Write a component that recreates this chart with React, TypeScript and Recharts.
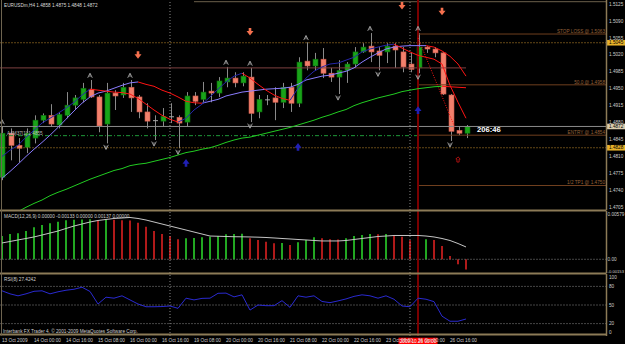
import React from "react";
import {
  ComposedChart,
  Bar,
  Line,
  Scatter,
  XAxis,
  YAxis,
  ReferenceLine,
  Cell,
} from "recharts";

// EURUSDm H4, 13 Oct 2009 08:00 .. 26 Oct 2009 16:00, one entry per candle
const opens = [
  1.4767, 1.4858, 1.4833, 1.4829, 1.4848, 1.4885, 1.4895, 1.4875, 1.4895, 1.4916,
  1.4928, 1.4949, 1.4933, 1.4877, 1.4941, 1.4937, 1.4953, 1.4933, 1.4902, 1.4885,
  1.4883, 1.4891, 1.4891, 1.4881, 1.4935, 1.4928, 1.4945, 1.4941, 1.4964, 1.4972,
  1.4962, 1.4974, 1.4902, 1.4928, 1.4931, 1.4922, 1.4953, 1.492, 1.5007, 1.4997,
  1.5011, 1.4982, 1.4974, 1.4988, 1.5001, 1.5026, 1.5038, 1.5028, 1.5026, 1.5038,
  1.5026, 1.5001, 1.4993, 1.5036, 1.5032, 1.5024, 1.4937, 1.4864, 1.4858,
];
const highs = [
  1.4872, 1.4868, 1.4848, 1.4868, 1.4895, 1.4899, 1.4918, 1.4902, 1.4943, 1.4937,
  1.4962, 1.4968, 1.4937, 1.4962, 1.4947, 1.4962, 1.4968, 1.4937, 1.492, 1.4895,
  1.491, 1.492, 1.4895, 1.4943, 1.4943, 1.4964, 1.4962, 1.4974, 1.4995, 1.4984,
  1.4984, 1.4993, 1.4937, 1.4937, 1.4953, 1.4962, 1.4962, 1.5015, 1.5046, 1.5024,
  1.5034, 1.4993, 1.5009, 1.5005, 1.5036, 1.5044, 1.5065, 1.5036, 1.5044, 1.5044,
  1.5036, 1.5026, 1.5065, 1.5038, 1.5036, 1.5026, 1.4939, 1.4873, 1.4875,
];
const lows = [
  1.4761, 1.4802, 1.4798, 1.4817, 1.4837, 1.4879, 1.4871, 1.4868, 1.4889, 1.4906,
  1.4922, 1.4931, 1.486, 1.4837, 1.4906, 1.4931, 1.4902, 1.4889, 1.4868, 1.4844,
  1.4871, 1.4879, 1.4827, 1.4871, 1.4916, 1.492, 1.4922, 1.4933, 1.4953, 1.4953,
  1.4955, 1.4881, 1.4889, 1.4916, 1.4885, 1.491, 1.4902, 1.4912, 1.4988, 1.4988,
  1.4972, 1.4964, 1.4939, 1.4962, 1.4993, 1.5024, 1.5005, 1.4988, 1.5003, 1.4993,
  1.4984, 1.4984, 1.4982, 1.5024, 1.5015, 1.4937, 1.4842, 1.4854, 1.4848,
];
const closes = [
  1.4858, 1.4833, 1.4827, 1.4858, 1.4885, 1.4895, 1.4877, 1.4897, 1.4916, 1.4931,
  1.4951, 1.4933, 1.4873, 1.4941, 1.4935, 1.4953, 1.4931, 1.4902, 1.4883, 1.4884,
  1.4893, 1.4892, 1.4879, 1.4935, 1.4924, 1.4943, 1.4941, 1.4966, 1.4972, 1.4962,
  1.4976, 1.4899, 1.4928, 1.4927, 1.4922, 1.4953, 1.492, 1.5005, 1.4997, 1.5011,
  1.4982, 1.4974, 1.4988, 1.5001, 1.5026, 1.5036, 1.5026, 1.5019, 1.5038, 1.503,
  1.4995, 1.499, 1.5036, 1.5032, 1.5024, 1.4939, 1.4862, 1.4858, 1.4872,
];

// moving averages over the candles
const fastMa = [
  1.481, 1.4823, 1.4833, 1.485, 1.4864, 1.4879, 1.4889, 1.4899, 1.491, 1.4922,
  1.4937, 1.4949, 1.4947, 1.4945, 1.4943, 1.4942, 1.4939, 1.493, 1.4918, 1.4906,
  1.4895, 1.4887, 1.4881, 1.4889, 1.4906, 1.4918, 1.4933, 1.4949, 1.4964, 1.4976,
  1.4982, 1.4972, 1.4959, 1.4947, 1.4937, 1.493, 1.4926, 1.4951, 1.4972, 1.4986,
  1.4995, 1.5001, 1.5003, 1.5009, 1.5015, 1.5026, 1.5032, 1.5036, 1.504, 1.5042,
  1.5034, 1.5026, 1.5019, 1.5015, 1.5011, 1.5001, 1.4957, 1.4922, 1.4889,
];
const slowMa = [
  1.4765, 1.4779, 1.4794, 1.481, 1.4825, 1.4839, 1.4854, 1.487, 1.4887, 1.4904,
  1.492, 1.4933, 1.4941, 1.4945, 1.4951, 1.4957, 1.4962, 1.4964, 1.4959, 1.4955,
  1.4947, 1.4941, 1.4933, 1.4924, 1.4921, 1.492, 1.4924, 1.4928, 1.4935, 1.4939,
  1.4943, 1.4945, 1.4947, 1.4949, 1.495, 1.4951, 1.4953, 1.4959, 1.4968, 1.4972,
  1.4976, 1.4978, 1.4982, 1.4986, 1.4993, 1.5005, 1.5015, 1.5024, 1.5032, 1.5036,
  1.5038, 1.5039, 1.5039, 1.5039, 1.5036, 1.5028, 1.5017, 1.5001, 1.4976,
];
const longMa = [
  1.468, 1.4688, 1.4696, 1.4705, 1.4713, 1.472, 1.4729, 1.4736, 1.4742, 1.4749,
  1.4756, 1.4763, 1.4769, 1.4775, 1.4781, 1.4785, 1.4791, 1.4794, 1.4796, 1.48,
  1.4804, 1.4808, 1.4813, 1.4818, 1.4821, 1.4825, 1.4828, 1.4833, 1.4839, 1.4844,
  1.4848, 1.485, 1.4854, 1.4858, 1.4862, 1.4866, 1.487, 1.4875, 1.488, 1.4885,
  1.4891, 1.4896, 1.4902, 1.4907, 1.4915, 1.4921, 1.4926, 1.4931, 1.4935, 1.4939,
  1.4944, 1.4947, 1.495, 1.4952, 1.4954, 1.4955, 1.4954, 1.4953, 1.4952,
];

// MACD(12,26,9)
const macdHist = [
  0.00302, 0.00328, 0.00338, 0.00367, 0.00415, 0.00445, 0.00467, 0.00488, 0.00508, 0.00512,
  0.00518, 0.0052, 0.0051, 0.00519, 0.00512, 0.00508, 0.00504, 0.00475, 0.00423, 0.00367,
  0.00328, 0.00302, 0.0026, 0.00273, 0.00276, 0.00286, 0.00293, 0.00302, 0.00326, 0.00328,
  0.0033, 0.00273, 0.00251, 0.00229, 0.00208, 0.0021, 0.00186, 0.00221, 0.00251, 0.00286,
  0.00273, 0.0026, 0.00258, 0.00273, 0.00302, 0.00315, 0.00328, 0.00324, 0.00328, 0.00315,
  0.00293, 0.00248, 0.00251, 0.0026, 0.00251, 0.00173, 0.00043, -0.00065, -0.00133,
];
const macdSignal = [
  0.00212, 0.00231, 0.00251, 0.0027, 0.0029, 0.00315, 0.00341, 0.00367, 0.004, 0.00432,
  0.00458, 0.00484, 0.00504, 0.00517, 0.0053, 0.00536, 0.00543, 0.0053, 0.0051, 0.00484,
  0.00458, 0.00432, 0.00406, 0.0038, 0.00354, 0.00328, 0.00302, 0.00299, 0.00296, 0.00293,
  0.00292, 0.0029, 0.00287, 0.00283, 0.00277, 0.0027, 0.00264, 0.00257, 0.00251, 0.00244,
  0.00238, 0.00238, 0.00238, 0.00244, 0.00257, 0.0027, 0.00283, 0.00296, 0.00302, 0.00309,
  0.00309, 0.00309, 0.00309, 0.00302, 0.0029, 0.0027, 0.00244, 0.00205, 0.0016,
];

// RSI(8)
const rsi8 = [
  72.9, 68.0, 64.8, 68.0, 72.1, 72.9, 68.0, 71.3, 73.8, 75.4,
  78.7, 71.8, 51.6, 62.6, 61.0, 64.8, 58.2, 51.6, 47.2, 47.2,
  47.5, 48.4, 44.6, 61.0, 58.2, 60.7, 61.0, 68.9, 69.2, 63.1,
  66.4, 41.8, 50.0, 48.9, 48.9, 57.0, 46.2, 64.8, 62.6, 64.8,
  55.7, 53.8, 56.6, 59.8, 63.9, 66.4, 64.8, 61.0, 64.8, 59.3,
  48.4, 47.2, 61.0, 59.3, 55.4, 32.0, 23.8, 23.8, 27.4242,
];

const priceTicks = [
  1.5125, 1.509, 1.5055, 1.502, 1.4985, 1.495, 1.4915, 1.488, 1.4845, 1.481, 1.4775, 1.474, 1.4705,
];
const macdTicks = [0.00579, 0, -0.00153];
const rsiTicks = [100, 80, 50, 20, 0];
const dateLabels = [
  "13 Oct 2009", "14 Oct 00:00", "14 Oct 16:00", "15 Oct 08:00", "16 Oct 00:00",
  "16 Oct 16:00", "19 Oct 08:00", "20 Oct 00:00", "20 Oct 16:00", "21 Oct 08:00",
  "22 Oct 00:00", "22 Oct 16:00", "23 Oct 08:00", "26 Oct 00:00", "26 Oct 16:00",
];

// arrows on the price panel
const upFractals = [0, 11, 16, 28, 31, 38, 46, 52];
const downFractals = [13, 19, 22, 31, 42, 47, 52, 56];
const sellIdx = [17, 31, 50, 55];
const sellPrice = [1.5019, 1.5067, 1.5121, 1.5109];
const buyIdx = [23, 37, 52];
const buyPrice = [1.4797, 1.483, 1.4906];
const alertIdx = [57];
const alertPrice = [1.4803];

const tradeLevels = [
  { label: "STOP LOSS @ 1.5063", price: 1.5063 },
  { label: "50.0 @ 1.4958", price: 1.4958 },
  { label: "ENTRY @ 1.4854", price: 1.4854 },
  { label: "1/2 TP1 @ 1.4750", price: 1.475 },
];

const W = 625;
const AXIS_W = 18.5;
const X_DOMAIN: [number, number] = [-0.25, 75.56];
const FONT = "'Liberation Sans', Arial, sans-serif";
const FS = 4.7;
const FRAME = "#8c7b57";
const TEXT = "#cdcdcd";
const RED = "#ff1414";
const NOW = 52;
const margin = { top: 0, right: 0, bottom: 0, left: 0 };

// split a line into rising / falling pieces so each can get its own colour
function splitByDirection(values: number[]) {
  const up: (number | null)[] = values.map(() => null);
  const down: (number | null)[] = values.map(() => null);
  for (let k = 0; k < values.length - 1; k++) {
    const side = values[k + 1] >= values[k] ? up : down;
    side[k] = values[k];
    side[k + 1] = values[k + 1];
  }
  return { up, down };
}

const fast = splitByDirection(fastMa);
const slow = splitByDirection(slowMa);
const long = splitByDirection(longMa);

const rows = opens.map((open, i) => ({
  i,
  open,
  high: highs[i],
  low: lows[i],
  close: closes[i],
  range: [lows[i], highs[i]],
  fastUp: fast.up[i],
  fastDown: fast.down[i],
  slowUp: slow.up[i],
  slowDown: slow.down[i],
  longUp: long.up[i],
  longDown: long.down[i],
  macd: macdHist[i],
  signal: macdSignal[i],
  rsi: rsi8[i],
}));

const marks = (idx: number[], price: number[]) => idx.map((i, k) => ({ i, price: price[k] }));

function Candle(props: any) {
  const { x, y, width, height, payload } = props;
  if (x == null || !payload) return null;
  const top = Math.min(y, y + height);
  const span = Math.abs(height);
  const k = span / (payload.high - payload.low);
  const cx = Math.round(x + width / 2) + 0.5;
  const yo = top + (payload.high - payload.open) * k;
  const yc = top + (payload.high - payload.close) * k;
  const doji = Math.abs(payload.close - payload.open) < 0.00015;
  const bull = payload.close > payload.open;
  return (
    <g>
      <line x1={cx} x2={cx} y1={top} y2={top + span} stroke="#8a8a8a" strokeWidth={1} />
      {doji ? (
        <line x1={cx - 2.5} x2={cx + 2.5} y1={yc} y2={yc} stroke="#a8a8a8" strokeWidth={1} />
      ) : (
        <rect
          x={cx - 2.5}
          y={Math.min(yo, yc)}
          width={5}
          height={Math.max(Math.abs(yo - yc), 1)}
          fill={bull ? "#19a319" : "#f2806c"}
          stroke={bull ? "#0d6d0d" : "#c9584a"}
          strokeWidth={0.6}
        />
      )}
    </g>
  );
}

function FractalUp({ cx, cy }: any) {
  const y = cy - 4.5;
  return (
    <path
      d={`M${cx - 2.3},${y + 2.3} L${cx},${y - 2.3} L${cx + 2.3},${y + 2.3} M${cx},${y - 1.5} L${cx},${y + 1.5}`}
      stroke="#a6a6a6"
      strokeWidth={0.9}
      fill="none"
    />
  );
}

function FractalDown({ cx, cy }: any) {
  const y = cy + 3.8;
  return (
    <path
      d={`M${cx - 2.3},${y - 2.3} L${cx},${y + 2.3} L${cx + 2.3},${y - 2.3} M${cx},${y + 1.5} L${cx},${y - 1.5}`}
      stroke="#a6a6a6"
      strokeWidth={0.9}
      fill="none"
    />
  );
}

function SellArrow({ cx, cy }: any) {
  return (
    <path
      d={`M${cx - 1.3},${cy - 4} h2.6 v3 h2.2 L${cx},${cy + 3.5} L${cx - 3.5},${cy - 1} h2.2 z`}
      fill="#f4704e"
    />
  );
}

function BuyArrow({ cx, cy }: any) {
  return (
    <path
      d={`M${cx - 1.3},${cy + 4} h2.6 v-3 h2.2 L${cx},${cy - 3.8} L${cx - 3.5},${cy + 1} h2.2 z`}
      fill="#2020b4"
    />
  );
}

function AlertMark({ cx, cy }: any) {
  return (
    <path
      d={`M${cx},${cy - 3} L${cx + 2.2},${cy - 0.8} h-1.1 v3 h-2.2 v-3 h-1.1 z`}
      stroke="#cc1414"
      strokeWidth={0.8}
      fill="none"
    />
  );
}

function PriceTag({ viewBox, text, bg }: any) {
  if (!viewBox) return null;
  const x = viewBox.x + viewBox.width;
  const y = viewBox.y;
  return (
    <g>
      <rect x={x} y={y - 2.8} width={AXIS_W} height={5.6} fill={bg} />
      <text x={x + 2.5} y={y} dy="0.35em" fontSize={FS} fontFamily={FONT} fill="#000">
        {text}
      </text>
    </g>
  );
}

function LevelLabel({ viewBox, text }: any) {
  if (!viewBox) return null;
  return (
    <text
      x={viewBox.x + viewBox.width - 1.5}
      y={viewBox.y - 1.2}
      textAnchor="end"
      fontSize={FS}
      fontFamily={FONT}
      fill="#96623a"
    >
      {text}
    </text>
  );
}

function DateBox({ viewBox, text }: any) {
  if (!viewBox) return null;
  const x = viewBox.x;
  return (
    <g>
      <rect x={x - 19.5} y={63.7} width={39} height={6.3} fill="#ff0000" />
      <text x={x} y={66.9} dy="0.35em" textAnchor="middle" fontSize={FS} fontFamily={FONT} fill="#fff">
        {text}
      </text>
    </g>
  );
}

const axisText = (text: string, x: number, y: number, size = FS) => (
  <text x={x} y={y} dy="0.35em" fontSize={size} fontFamily={FONT} fill={TEXT}>
    {text}
  </text>
);

const fmtMacd = (v: number) => (v === 0 ? "0.00" : v.toFixed(5));

const lineProps = {
  type: "linear" as const,
  dot: false,
  activeDot: false,
  isAnimationActive: false,
  strokeWidth: 1,
  connectNulls: false,
};

const vLines = () => [
  <ReferenceLine key="v1" x={21} stroke="#8a8a8a" strokeDasharray="1 2" ifOverflow="visible" />,
  <ReferenceLine key="v2" x={51} stroke="#8a8a8a" strokeDasharray="1 2" ifOverflow="visible" />,
];

export default function App() {
  return (
    <div style={{ position: "relative", width: W, height: 344, background: "#000", overflow: "hidden" }}>
      <style>{"body{margin:0;background:#000}"}</style>

      {/* price panel */}
      <div style={{ position: "absolute", left: 0, top: 0 }}>
        <ComposedChart width={W} height={210} data={rows} margin={margin}>
          <XAxis dataKey="i" type="number" domain={X_DOMAIN} hide allowDataOverflow />
          <YAxis
            orientation="right"
            width={AXIS_W}
            domain={[1.46994, 1.51333]}
            allowDataOverflow
            ticks={priceTicks}
            interval={0}
            tickSize={0}
            tickMargin={2.5}
            tickLine={false}
            axisLine={{ stroke: FRAME, strokeWidth: 1.5 }}
            tick={(p: any) => axisText(p.payload.value.toFixed(4), p.x, p.y)}
          />
          {vLines()}
          <ReferenceLine
            segment={[{ x: 24, y: 1.51298 }, { x: X_DOMAIN[1], y: 1.51298 }]}
            stroke="#6b5f4a"
            ifOverflow="visible"
          />
          <ReferenceLine
            segment={[{ x: -0.25, y: 1.4993 }, { x: 58, y: 1.4993 }]}
            stroke="#7e4040"
            ifOverflow="visible"
          />
          <ReferenceLine
            segment={[{ x: -0.25, y: 1.4853 }, { x: NOW, y: 1.4853 }]}
            stroke="#1f9a3a"
            strokeDasharray="4 2 1 2"
            ifOverflow="visible"
          />
          {tradeLevels.map((l) => (
            <ReferenceLine
              key={l.label}
              segment={[{ x: NOW, y: l.price }, { x: X_DOMAIN[1], y: l.price }]}
              stroke="#6f3f1e"
              ifOverflow="visible"
              label={<LevelLabel text={l.label} />}
            />
          ))}
          <ReferenceLine
            y={1.5045}
            stroke="#c8922e"
            strokeDasharray="1 2"
            label={<PriceTag text="1.5045" bg="#e8b22a" />}
          />
          <ReferenceLine
            y={1.4828}
            stroke="#c8922e"
            strokeDasharray="1 2"
            label={<PriceTag text="1.4828" bg="#e8b22a" />}
          />
          <ReferenceLine y={1.4872} stroke="#8c8c8c" label={<PriceTag text="1.4872" bg="#d9ccae" />} />
          <ReferenceLine x={NOW} stroke="#7a0000" strokeWidth={2} />
          <ReferenceLine
            segment={[{ x: NOW, y: 1.5055 }, { x: 56.6, y: 1.487 }]}
            stroke={RED}
            strokeDasharray="1 1.5"
            ifOverflow="visible"
          />

          <Bar dataKey="range" barSize={5} shape={<Candle />} isAnimationActive={false} />

          <Line dataKey="longUp" stroke="#22cc22" {...lineProps} />
          <Line dataKey="longDown" stroke={RED} {...lineProps} />
          <Line dataKey="slowUp" stroke="#8a7cff" {...lineProps} />
          <Line dataKey="slowDown" stroke={RED} {...lineProps} />
          <Line dataKey="fastUp" stroke="#2626a8" {...lineProps} />
          <Line dataKey="fastDown" stroke={RED} {...lineProps} />

          <Scatter
            data={upFractals.map((i) => ({ i, price: highs[i] }))}
            dataKey="price"
            shape={<FractalUp />}
            isAnimationActive={false}
          />
          <Scatter
            data={downFractals.map((i) => ({ i, price: lows[i] }))}
            dataKey="price"
            shape={<FractalDown />}
            isAnimationActive={false}
          />
          <Scatter data={marks(sellIdx, sellPrice)} dataKey="price" shape={<SellArrow />} isAnimationActive={false} />
          <Scatter data={marks(buyIdx, buyPrice)} dataKey="price" shape={<BuyArrow />} isAnimationActive={false} />
          <Scatter data={marks(alertIdx, alertPrice)} dataKey="price" shape={<AlertMark />} isAnimationActive={false} />
        </ComposedChart>
      </div>

      {/* MACD panel */}
      <div style={{ position: "absolute", left: 0, top: 211 }}>
        <ComposedChart width={W} height={62} data={rows} margin={margin}>
          <XAxis dataKey="i" type="number" domain={X_DOMAIN} hide allowDataOverflow />
          <YAxis
            orientation="right"
            width={AXIS_W}
            domain={[-0.00178, 0.00627]}
            allowDataOverflow
            ticks={macdTicks}
            interval={0}
            tickSize={0}
            tickMargin={1}
            tickLine={false}
            axisLine={{ stroke: FRAME, strokeWidth: 1.5 }}
            tick={(p: any) => axisText(fmtMacd(p.payload.value), p.x, p.y, p.payload.value < 0 ? 4.2 : FS)}
          />
          <ReferenceLine y={0} stroke="#8a8a8a" strokeDasharray="1 2" />
          {vLines()}
          <ReferenceLine x={NOW} stroke="#7a0000" strokeWidth={2} />
          <Bar dataKey="macd" barSize={2} isAnimationActive={false}>
            {rows.map((r, i) => (
              <Cell key={i} fill={i > 0 && r.macd < rows[i - 1].macd ? "#b01a1a" : "#22a822"} />
            ))}
          </Bar>
          <Line dataKey="signal" stroke="#c4c4c4" {...lineProps} />
        </ComposedChart>
      </div>

      {/* RSI panel + time axis */}
      <div style={{ position: "absolute", left: 0, top: 274 }}>
        <ComposedChart width={W} height={70} data={rows} margin={margin}>
          <XAxis
            dataKey="i"
            type="number"
            domain={X_DOMAIN}
            allowDataOverflow
            height={8}
            ticks={dateLabels.map((_, k) => k * 4)}
            interval={0}
            axisLine={false}
            tickLine={false}
            tick={(p: any) => (
              <text x={p.x} y={66.6} dy="0.35em" fontSize={FS} fontFamily={FONT} fill={TEXT}>
                {dateLabels[Math.round(p.payload.value / 4)]}
              </text>
            )}
          />
          <YAxis
            orientation="right"
            width={AXIS_W}
            domain={[0, 100]}
            allowDataOverflow
            ticks={rsiTicks}
            interval={0}
            tickSize={0}
            tickMargin={2.5}
            tickLine={false}
            axisLine={{ stroke: FRAME, strokeWidth: 1.5 }}
            tick={(p: any) => axisText(String(p.payload.value), p.x, Math.min(Math.max(p.y, 3.6), 58))}
          />
          <ReferenceLine y={80} stroke="#8a8a8a" strokeDasharray="1 2" />
          <ReferenceLine y={50} stroke="#8a8a8a" strokeDasharray="1 2" />
          <ReferenceLine y={20} stroke="#8a8a8a" strokeDasharray="1 2" />
          {vLines()}
          <ReferenceLine
            x={NOW}
            stroke="#7a0000"
            strokeWidth={2}
            label={<DateBox text="2009.10.26 00:00" />}
          />
          <Line dataKey="rsi" stroke="#2a2ad0" {...lineProps} />
        </ComposedChart>
      </div>

      {/* frame and panel captions */}
      <svg
        width={W}
        height={344}
        style={{ position: "absolute", left: 0, top: 0, pointerEvents: "none" }}
        fontFamily={FONT}
      >
        <rect x={0} y={209.5} width={606.5} height={2} fill={FRAME} />
        <rect x={0} y={272.5} width={606.5} height={2} fill={FRAME} />
        <rect x={0} y={333.5} width={606.5} height={2} fill={FRAME} />
        <line x1={1.5} x2={1.5} y1={0} y2={335.5} stroke="#6e6450" strokeWidth={1} />
        <text x={4} y={5.5} dy="0.35em" fontSize={FS} fill="#d8d8d8">
          EURUSDm,H4  1.4858 1.4875 1.4848 1.4872
        </text>
        <text x={7} y={133} dy="0.35em" fontSize={FS} fill="#bdbdbd">
          A4M37[1]:1.4855
        </text>
        <text x={477} y={129} dy="0.35em" fontSize={7.6} fontWeight="bold" fill="#ffffff">
          206:46
        </text>
        <text x={4} y={216.5} dy="0.35em" fontSize={FS} fill="#d0d0d0">
          MACD(12,26,9) 0.00000 -0.00133 0.00000 0.00137 0.00000
        </text>
        <text x={4} y={279} dy="0.35em" fontSize={FS} fill="#d0d0d0">
          RSI(8) 27.4242
        </text>
        <text x={3} y={331} dy="0.35em" fontSize={FS} fill="#d0d0d0">
          Interbank FX Trader 4, © 2001-2009 MetaQuotes Software Corp.
        </text>
      </svg>
    </div>
  );
}
